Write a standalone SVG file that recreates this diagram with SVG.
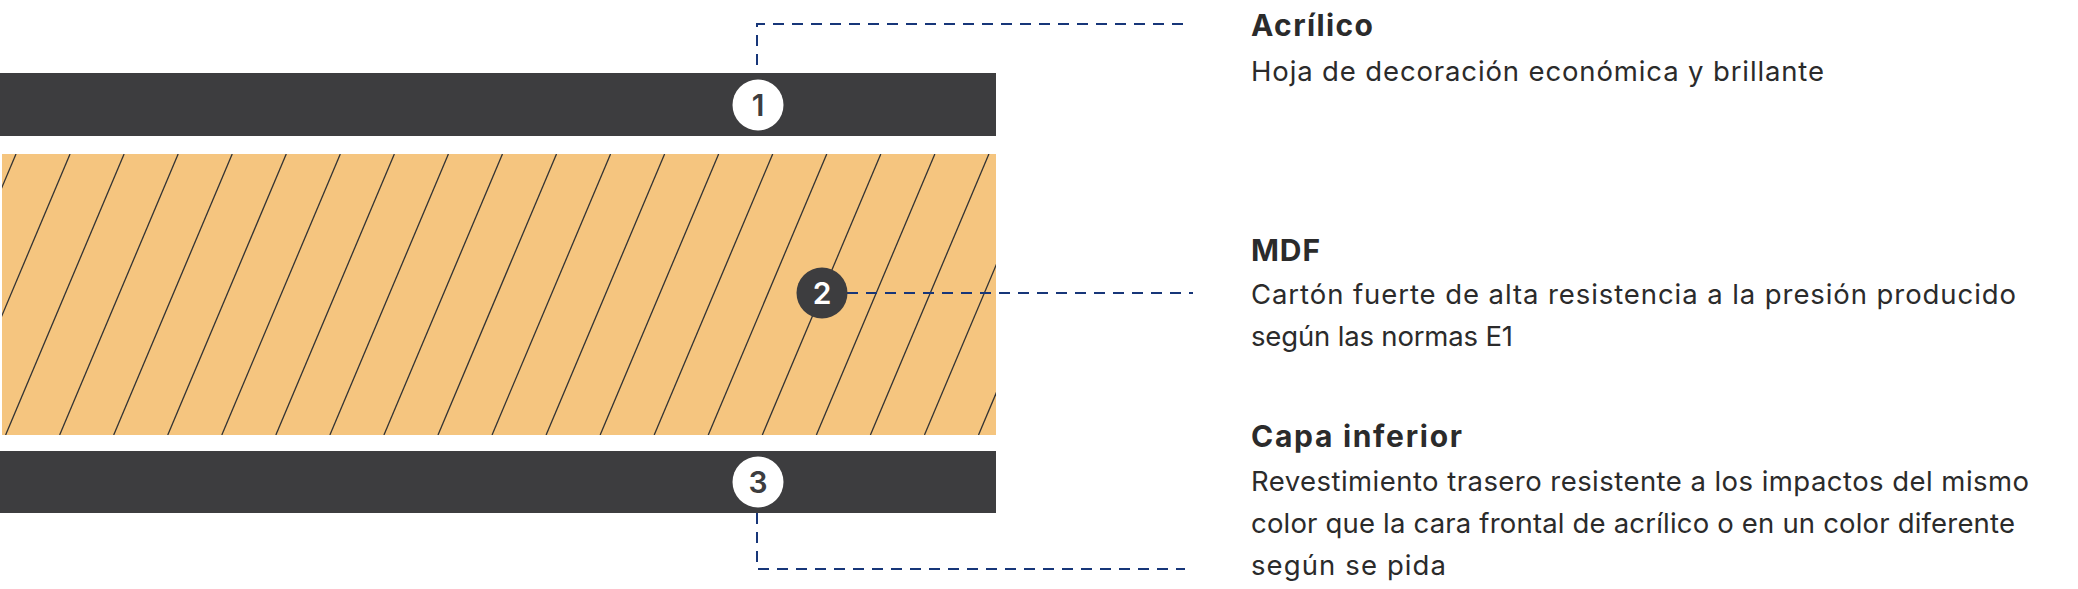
<svg xmlns="http://www.w3.org/2000/svg" width="2078" height="589" viewBox="0 0 2078 589">
<defs>
<style>
.bar{fill:#3d3d3f}
.mdf{fill:#f5c57f}
.hatch line{stroke:#333333;stroke-width:1.3}
.lead{fill:none;stroke:#173679;stroke-width:2;stroke-dasharray:11 8}
.title{font-family:Inter,"Liberation Sans",sans-serif;font-weight:700;font-size:30px;fill:#2b2b2b}
.desc{font-family:Inter,"Liberation Sans",sans-serif;font-weight:400;font-size:27.5px;fill:#2b2b2b}
.num{font-family:Inter,"Liberation Sans",sans-serif;font-weight:600;font-size:30px;text-anchor:middle}
</style>
<clipPath id="mdfclip"><rect x="2" y="154" width="994" height="281"/></clipPath>
</defs>
<rect width="2078" height="589" fill="#ffffff"/>

<g id="layer-acrilico">
<rect class="bar" x="0" y="73" width="996" height="63"/>
</g>

<g id="layer-mdf">
<rect class="mdf" x="2" y="154" width="994" height="281"/>
<g class="hatch" clip-path="url(#mdfclip)">
<line x1="16" y1="154" x2="-102.5" y2="435"/>
<line x1="70.05" y1="154" x2="-48.45" y2="435"/>
<line x1="124.1" y1="154" x2="5.6" y2="435"/>
<line x1="178.15" y1="154" x2="59.65" y2="435"/>
<line x1="232.2" y1="154" x2="113.7" y2="435"/>
<line x1="286.25" y1="154" x2="167.75" y2="435"/>
<line x1="340.3" y1="154" x2="221.8" y2="435"/>
<line x1="394.35" y1="154" x2="275.85" y2="435"/>
<line x1="448.4" y1="154" x2="329.9" y2="435"/>
<line x1="502.45" y1="154" x2="383.95" y2="435"/>
<line x1="556.5" y1="154" x2="438" y2="435"/>
<line x1="610.55" y1="154" x2="492.05" y2="435"/>
<line x1="664.6" y1="154" x2="546.1" y2="435"/>
<line x1="718.65" y1="154" x2="600.15" y2="435"/>
<line x1="772.7" y1="154" x2="654.2" y2="435"/>
<line x1="826.75" y1="154" x2="708.25" y2="435"/>
<line x1="880.8" y1="154" x2="762.3" y2="435"/>
<line x1="934.85" y1="154" x2="816.35" y2="435"/>
<line x1="988.9" y1="154" x2="870.4" y2="435"/>
<line x1="1042.95" y1="154" x2="924.45" y2="435"/>
<line x1="1097" y1="154" x2="978.5" y2="435"/>
<line x1="1151.05" y1="154" x2="1032.55" y2="435"/>
</g>
</g>

<g id="layer-inferior">
<rect class="bar" x="0" y="451" width="996" height="62"/>
</g>

<g id="connectors">
<path class="lead" d="M1183 24 H757 V73"/>
<path class="lead" d="M847 293 H1193"/>
<path class="lead" d="M757 513 V569 H1185"/>
</g>

<g id="badge-1">
<circle cx="758" cy="105" r="25.5" fill="#ffffff"/>
<text class="num" x="758" y="116" fill="#3d3d3f">1</text>
</g>
<g id="badge-2">
<circle cx="822" cy="293" r="25.5" fill="#3d3d3f"/>
<text class="num" x="822" y="304" fill="#ffffff">2</text>
</g>
<g id="badge-3">
<circle cx="758" cy="482" r="25.5" fill="#ffffff"/>
<text class="num" x="758" y="493" fill="#3d3d3f">3</text>
</g>

<g id="label-acrilico">
<text class="title" x="1251" y="36" textLength="122" lengthAdjust="spacing">Acrílico</text>
<text class="desc" x="1251" y="81" textLength="573" lengthAdjust="spacing">Hoja de decoración económica y brillante</text>
</g>
<g id="label-mdf">
<text class="title" x="1251" y="261" textLength="69" lengthAdjust="spacing">MDF</text>
<text class="desc" x="1251" y="304" textLength="765" lengthAdjust="spacing">Cartón fuerte de alta resistencia a la presión producido</text>
<text class="desc" x="1251" y="346" textLength="262" lengthAdjust="spacing">según las normas E1</text>
</g>
<g id="label-inferior">
<text class="title" x="1251" y="447" textLength="211" lengthAdjust="spacing">Capa inferior</text>
<text class="desc" x="1251" y="491" textLength="778" lengthAdjust="spacing">Revestimiento trasero resistente a los impactos del mismo</text>
<text class="desc" x="1251" y="533" textLength="764" lengthAdjust="spacing">color que la cara frontal de acrílico o en un color diferente</text>
<text class="desc" x="1251" y="575" textLength="195" lengthAdjust="spacing">según se pida</text>
</g>
</svg>
